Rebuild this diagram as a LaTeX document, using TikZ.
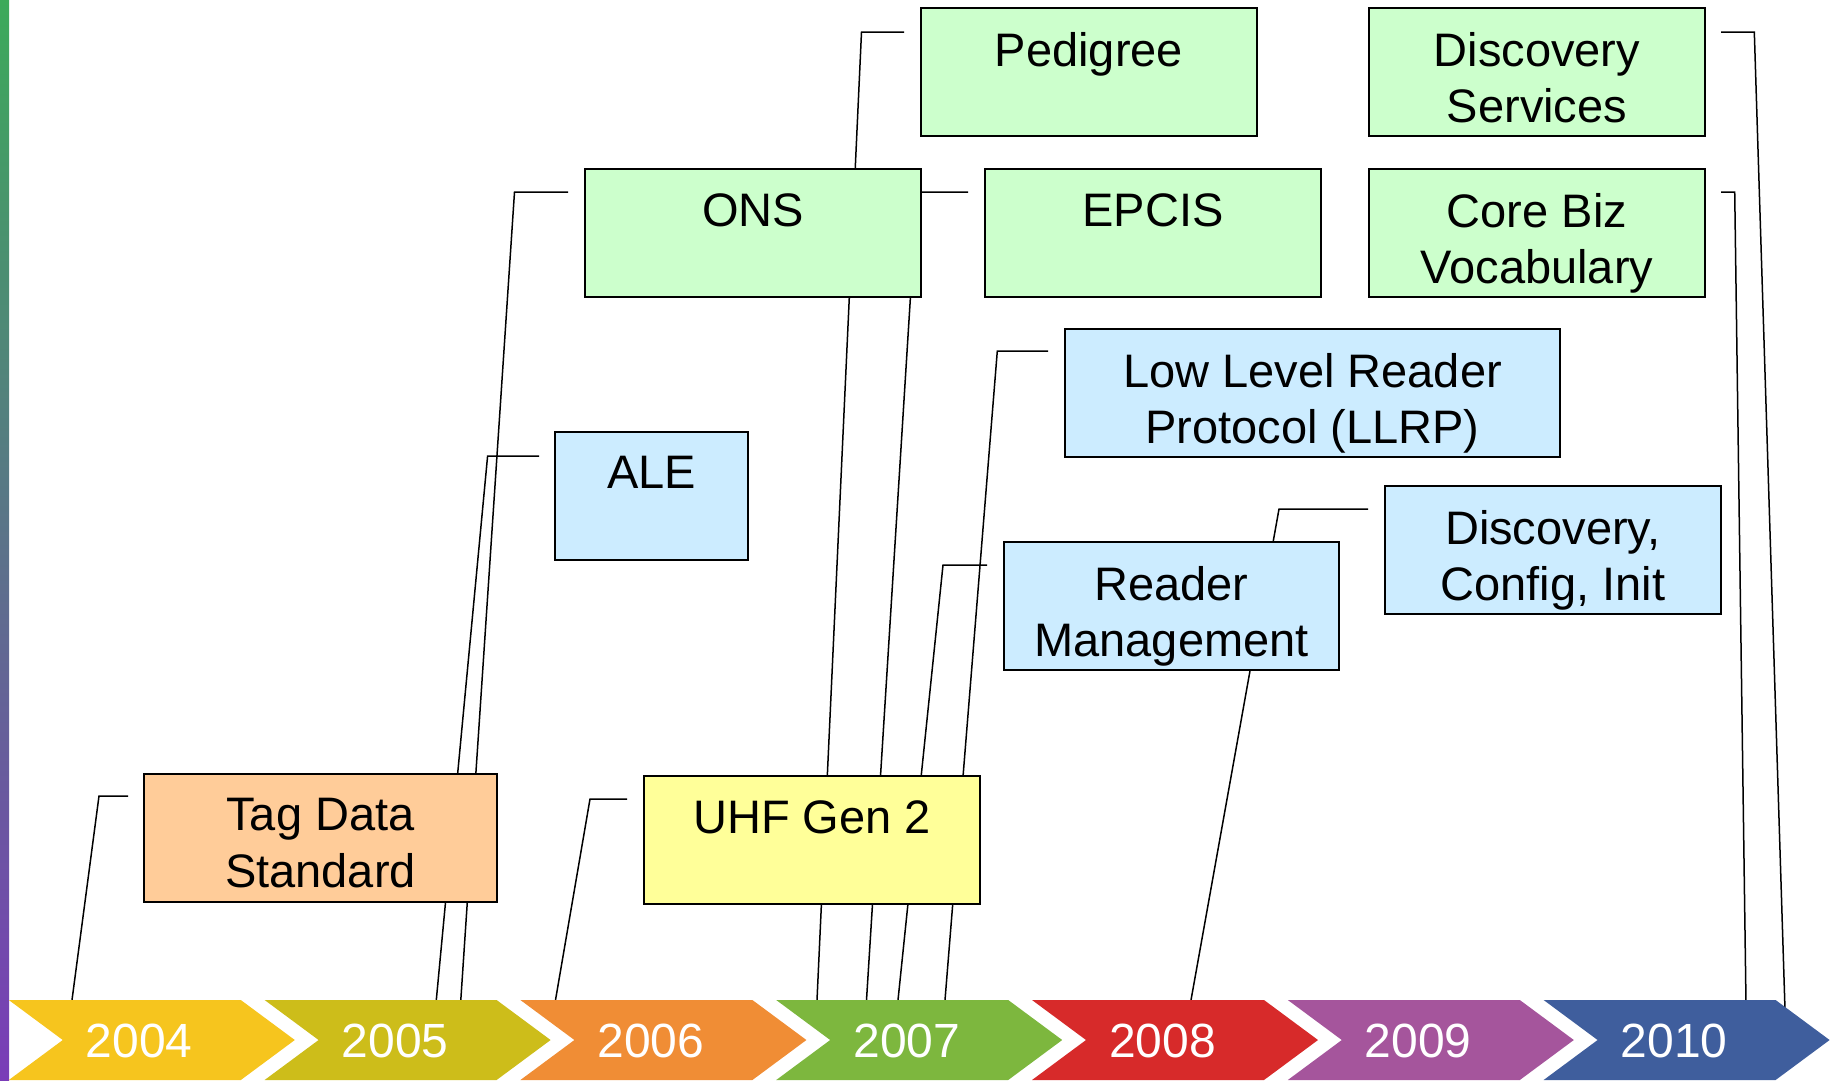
\documentclass[tikz,border=0pt]{standalone}
\usepackage{fontspec}
\setmainfont{Liberation Sans}
\definecolor{boxgreen}{HTML}{CCFFCC}
\definecolor{boxblue}{HTML}{CCECFF}
\definecolor{boxorange}{HTML}{FFCC99}
\definecolor{boxyellow}{HTML}{FFFF99}
\definecolor{barTop}{HTML}{3CAA5A}
\definecolor{barBottom}{HTML}{7A3CB8}
\definecolor{yr2004}{HTML}{F6C51E}
\definecolor{yr2005}{HTML}{CDBD1A}
\definecolor{yr2006}{HTML}{F08D35}
\definecolor{yr2007}{HTML}{7DB73E}
\definecolor{yr2008}{HTML}{D72A2A}
\definecolor{yr2009}{HTML}{A5559C}
\definecolor{yr2010}{HTML}{3F5E9D}
\pgfdeclarelayer{lines}
\pgfsetlayers{lines,main}
\begin{document}
\begin{tikzpicture}[x=1pt,y=-1pt,
  stdbox/.style={draw=black, line width=2pt, inner sep=0pt, anchor=north west,
    minimum width=336pt, minimum height=128pt},
  boxtext/.style={anchor=north, inner sep=0pt, align=center,
    font=\fontsize{47}{56.5}\selectfont},
  conn/.style={line width=1.5pt, black},
  yeartext/.style={text=white, inner sep=0pt, font=\fontsize{48}{56}\selectfont}]
\useasboundingbox (0,0) rectangle (1843,1080);

% vertical gradient bar on the left edge
\shade[top color=barTop, bottom color=barBottom] (0,0) rectangle (9,1080);

% year chevrons
\foreach \i/\yr in {0/2004,1/2005,2/2006,3/2007,4/2008,5/2009,6/2010}{
  \pgfmathsetmacro{\L}{8.8+255.8*\i}
  \fill[yr\yr] (\L,1000) -- ({\L+232},1000) -- ({\L+286},1040) -- ({\L+232},1080)
     -- (\L,1080) -- ({\L+54},1040) -- cycle;
  \node[yeartext] (y\yr) at ({\L+130.5},1041) {\yr};
}

% standards boxes
\node[stdbox, fill=boxgreen] (ped) at (920,7) {};
\node[stdbox, fill=boxgreen] (ds) at (1368,7) {};
\node[stdbox, fill=boxgreen] (ons) at (584,168) {};
\node[stdbox, fill=boxgreen] (epc) at (984,168) {};
\node[stdbox, fill=boxgreen] (cb) at (1368,168) {};
\node[stdbox, fill=boxblue, minimum width=495pt] (llrp) at (1064,328) {};
\node[stdbox, fill=boxblue, minimum width=193pt] (ale) at (554,431) {};
\node[stdbox, fill=boxblue] (disc) at (1384,485) {};
\node[stdbox, fill=boxblue, minimum width=335pt] (rm) at (1003,541) {};
\node[stdbox, fill=boxorange, minimum width=353pt] (tds) at (143,773) {};
\node[stdbox, fill=boxyellow] (uhf) at (643,775) {};

% box captions
\node[boxtext] (ped-t) at ([yshift=-25pt]ped.north) {Pedigree};
\node[boxtext] (ds-t) at ([yshift=-25pt]ds.north) {Discovery\\Services};
\node[boxtext] (ons-t) at ([yshift=-25pt]ons.north) {ONS};
\node[boxtext] (epc-t) at ([yshift=-25pt]epc.north) {EPCIS};
\node[boxtext] (cb-t) at ([yshift=-25pt]cb.north) {Core Biz\\Vocabulary};
\node[boxtext] (llrp-t) at ([yshift=-25pt]llrp.north) {Low Level Reader\\Protocol (LLRP)};
\node[boxtext] (ale-t) at ([yshift=-25pt]ale.north) {ALE};
\node[boxtext] (disc-t) at ([yshift=-25pt]disc.north) {Discovery,\\Config, Init};
\node[boxtext] (rm-t) at ([yshift=-25pt]rm.north) {Reader\\Management};
\node[boxtext] (tds-t) at ([yshift=-25pt]tds.north) {Tag Data\\Standard};
\node[boxtext] (uhf-t) at ([yshift=-25pt]uhf.north) {UHF Gen 2};

% feet of the callout lines on the year chevrons
\coordinate (f-tds) at (72,1000);
\coordinate (f-ale) at (436.3,1000);
\coordinate (f-ons) at (460.8,1000);
\coordinate (f-uhf) at (555.5,1000);
\coordinate (f-ped) at (817,1000);
\coordinate (f-epc) at (866.5,1000);
\coordinate (f-rm) at (898,1000);
\coordinate (f-llrp) at (945,1000);
\coordinate (f-disc) at (1191,1000);
\coordinate (f-cb) at (1746,1004);
\coordinate (f-ds) at (1785,1010);

% callout lines, kept behind the boxes and chevrons
\begin{pgfonlayer}{lines}
\draw[conn] (f-tds) -- ([shift={(-44,23)}]tds.north west) -- ([shift={(-15,23)}]tds.north west);
\draw[conn] (f-ons) -- ([shift={(-69.5,24)}]ons.north west) -- ([shift={(-16,24)}]ons.north west);
\draw[conn] (f-ale) -- ([shift={(-66.4,25)}]ale.north west) -- ([shift={(-15,25)}]ale.north west);
\draw[conn] (f-uhf) -- ([shift={(-53,24)}]uhf.north west) -- ([shift={(-16,24)}]uhf.north west);
\draw[conn] (f-ped) -- ([shift={(-58.5,25)}]ped.north west) -- ([shift={(-16,25)}]ped.north west);
\draw[conn] (f-epc) -- ([shift={(-67,24)}]epc.north west) -- ([shift={(-16,24)}]epc.north west);
\draw[conn] (f-llrp) -- ([shift={(-66.7,23)}]llrp.north west) -- ([shift={(-16,23)}]llrp.north west);
\draw[conn] (f-rm) -- ([shift={(-60,24)}]rm.north west) -- ([shift={(-16,24)}]rm.north west);
\draw[conn] (f-disc) -- ([shift={(-105,24)}]disc.north west) -- ([shift={(-16,24)}]disc.north west);
\draw[conn] (f-ds) -- ([shift={(48.3,25)}]ds.north east) -- ([shift={(15,25)}]ds.north east);
\draw[conn] (f-cb) -- ([shift={(28.7,24)}]cb.north east) -- ([shift={(15,24)}]cb.north east);
\end{pgfonlayer}
\end{tikzpicture}
\end{document}
